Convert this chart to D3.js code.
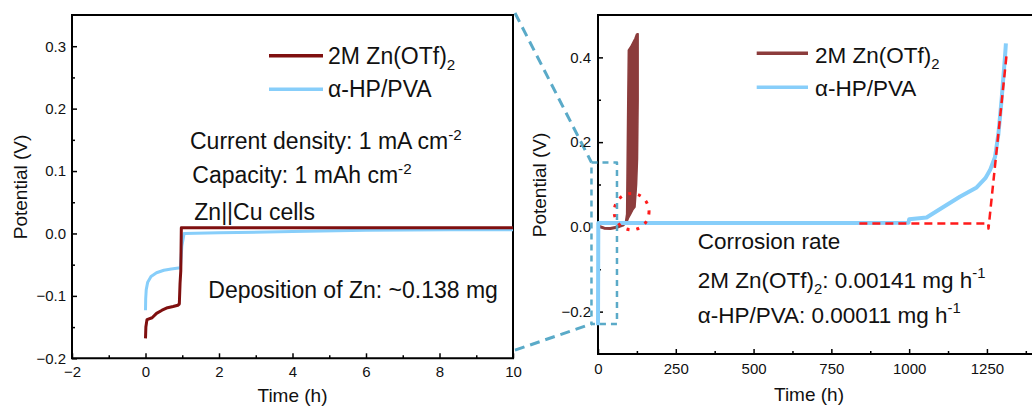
<!DOCTYPE html>
<html><head><meta charset="utf-8">
<script src="https://cdn.jsdelivr.net/npm/d3@7"></script>
<style>
body{margin:0;background:#fff}
text{font-family:"Liberation Sans",Arial,Helvetica,sans-serif;fill:#111}
</style></head>
<body><svg id="c" width="1032" height="407"></svg>
<script>
// ---------- data ----------
// Left panel (zoom, 0-10 h)
const leftRedT = [0, 0.01, 0.04, 0.18, 0.3, 0.45, 0.6, 0.75, 0.88, 0.92, 0.94, 0.96, 0.975, 1.0, 1.5, 10];
const leftRedV = [-0.168, -0.15, -0.138, -0.135, -0.128, -0.123, -0.119, -0.117, -0.115, -0.113, -0.08, -0.06, 0.009, 0.009, 0.009, 0.009];
const leftBlueT = [0, 0.005, 0.02, 0.06, 0.15, 0.3, 0.5, 0.7, 0.95, 0.99, 1.05, 2, 4, 6, 8.3, 10];
const leftBlueV = [-0.123, -0.105, -0.09, -0.078, -0.069, -0.063, -0.059, -0.057, -0.055, -0.02, 0.0, 0.001, 0.003, 0.005, 0.006, 0.006];
// Right panel (full, 0-1400 h)
const rightBrownT = [0, 20, 40, 60, 80, 88];
const rightBrownV = [0.002, -0.003, -0.004, -0.001, 0.004, 0.01];
const bandT  = [88, 92, 95, 97.5, 105, 112, 119, 124, 127, 129];
const bandHi = [0.01, 0.03, 0.25, 0.417, 0.425, 0.435, 0.445, 0.455, 0.456, 0.456];
const bandLo = [0.01, 0.01, 0.015, 0.02, 0.03, 0.04, 0.047, 0.1, 0.16, 0.3];
const rightBlueT = [0, 1, 200, 400, 600, 800, 998, 1000, 1056, 1110, 1163, 1217, 1245, 1260, 1276, 1287, 1297, 1308, 1311];
const rightBlueV = [-0.232, 0.009, 0.009, 0.009, 0.009, 0.009, 0.01, 0.018, 0.022, 0.047, 0.071, 0.093, 0.115, 0.134, 0.165, 0.22, 0.299, 0.401, 0.433];
const fitT = [840, 1254, 1255, 1313];
const fitV = [0.008, 0.008, -0.004, 0.405];
const circleCenter = [108, 0.036];   // dotted highlight (h, V)
const zoomBoxT = [-21, 61];
const zoomBoxV = [-0.229, 0.152];
// ticks
const lxMajor = [-2, 0, 2, 4, 6, 8, 10], lxMinor = [-1, 1, 3, 5, 7, 9];
const lyMajor = [-0.2, -0.1, 0, 0.1, 0.2, 0.3], lyMinor = [-0.15, -0.05, 0.05, 0.15, 0.25];
const rxMajor = [0, 250, 500, 750, 1000, 1250], rxMinor = [125, 375, 625, 875, 1125, 1375];
const ryMajor = [-0.2, 0, 0.2, 0.4], ryMinor = [-0.1, 0.1, 0.3];

// ---------- setup ----------
const svg = d3.select("#c");
const RED = "#7f0f0f", BROWN = "#8c3c3c", BLUE = "#87cefa", CONN = "#5aaac8";

const xL = d3.scaleLinear().domain([-2, 10]).range([72, 513]);
const yL = d3.scaleLinear().domain([-0.2, 0.35]).range([358.3, 15]);
const xR = d3.scaleLinear().domain([0, 1400]).range([598, 1033.6]);
const yR = d3.scaleLinear().domain([-0.3, 0.5]).range([354, 15]);

function zip(a, b) { return a.map((d, i) => [d, b[i]]); }

function axes(x, y, xMaj, xMin, yMaj, yMin, xPad, yPad, yFmt) {
  const g = svg.append("g");
  const [x0, x1] = x.range(), [y0, y1] = y.range();
  g.append("g").attr("transform", `translate(0,${y0})`)
    .call(d3.axisBottom(x).tickValues(xMaj).tickSize(-5).tickPadding(xPad).tickFormat(d3.format("d")));
  g.append("g").attr("transform", `translate(0,${y0})`)
    .call(d3.axisBottom(x).tickValues(xMin).tickSize(-3).tickFormat(""));
  g.append("g").attr("transform", `translate(${x0},0)`)
    .call(d3.axisLeft(y).tickValues(yMaj).tickSize(-5).tickPadding(yPad).tickFormat(d3.format(yFmt)));
  g.append("g").attr("transform", `translate(${x0},0)`)
    .call(d3.axisLeft(y).tickValues(yMin).tickSize(-3).tickFormat(""));
  g.selectAll(".domain").remove();
  g.selectAll(".tick line").attr("stroke", "#000").attr("stroke-width", 1.5);
  g.selectAll(".tick text").style("font-size", "15px").attr("fill", "#111")
    .style("font-family", '"Liberation Sans",Arial,sans-serif');
  svg.append("path").attr("fill", "none").attr("stroke", "#000").attr("stroke-width", 2)
    .attr("d", `M${x0},${y1}H${x1}V${y0}H${x0}Z`);
}

function rich(x, y, parts, size, anchor) {
  const t = svg.append("text").attr("x", x).attr("y", y).style("font-size", size + "px");
  if (anchor) t.attr("text-anchor", anchor);
  let shift = 0;
  parts.forEach(p => {
    const [s, k] = Array.isArray(p) ? p : [p, "n"];
    let target = 0, fs = size;
    if (k === "sup") { target = -0.42 * size; fs = size * 0.66; }
    if (k === "sub") { target = 0.28 * size; fs = size * 0.66; }
    t.append("tspan").attr("dy", target - shift).style("font-size", fs + "px").text(s);
    shift = target;
  });
  return t;
}

const line = (x, y) => d3.line().x(d => x(d[0])).y(d => y(d[1]));

// ---------- connector lines (behind) ----------
const cg = svg.append("g").attr("fill", "none").attr("stroke", CONN).attr("stroke-width", 3);
cg.append("path").attr("stroke-dasharray", "10,6")
  .attr("d", d3.line()([[xL(10) + 2, yL(0.35) - 2], [xR(zoomBoxT[0]), yR(zoomBoxV[1])]]));
cg.append("path").attr("stroke-dasharray", "10,6")
  .attr("d", d3.line()([[xL(10) + 2, yL(-0.187)], [xR(zoomBoxT[0]), yR(zoomBoxV[0])]]));

// ---------- left panel ----------
axes(xL, yL, lxMajor, lxMinor, lyMajor, lyMinor, 8, 6, ".1f");
svg.append("defs").append("clipPath").attr("id", "clipL").append("rect")
  .attr("x", 72).attr("y", 15).attr("width", 441).attr("height", 343.3);
const gl = svg.append("g").attr("clip-path", "url(#clipL)").attr("fill", "none")
  .attr("stroke-width", 3).attr("stroke-linejoin", "round");
gl.append("path").attr("stroke", BLUE).attr("d", line(xL, yL)(zip(leftBlueT, leftBlueV)));
gl.append("path").attr("stroke", RED).attr("d", line(xL, yL)(zip(leftRedT, leftRedV)));

svg.append("line").attr("x1", 269).attr("x2", 323).attr("y1", 55.7).attr("y2", 55.7)
  .attr("stroke", RED).attr("stroke-width", 3.5);
svg.append("line").attr("x1", 269).attr("x2", 323).attr("y1", 89.3).attr("y2", 89.3)
  .attr("stroke", BLUE).attr("stroke-width", 3.5);
rich(328, 63.8, ["2M Zn(OTf)", ["2", "sub"]], 23);
rich(328, 96.8, ["α-HP/PVA"], 23);
rich(190, 149.2, ["Current density: 1 mA cm", ["-2", "sup"]], 23);
rich(192.3, 183.2, ["Capacity: 1 mAh cm", ["-2", "sup"]], 23);
rich(194.3, 219.8, ["Zn||Cu cells"], 23);
rich(208.3, 298.2, ["Deposition of Zn: ~0.138 mg"], 23);
svg.append("text").attr("transform", "translate(27,187) rotate(-90)").attr("text-anchor", "middle")
  .style("font-size", "19px").text("Potential (V)");
svg.append("text").attr("x", 292.5).attr("y", 402).attr("text-anchor", "middle")
  .style("font-size", "19px").text("Time (h)");

// ---------- right panel ----------
axes(xR, yR, rxMajor, rxMinor, ryMajor, ryMinor, 9, 7, ".1f");
const gr = svg.append("g").attr("fill", "none").attr("stroke-linejoin", "round");
gr.append("path").attr("stroke", BROWN).attr("stroke-width", 3)
  .attr("d", line(xR, yR)(zip(rightBrownT, rightBrownV)));
gr.append("path").attr("fill", BROWN).attr("stroke", BROWN).attr("stroke-width", 1.5)
  .attr("d", d3.area().x(d => xR(d[0])).y0(d => yR(d[2])).y1(d => yR(d[1]))(bandT.map((t, i) => [t, bandHi[i], bandLo[i]])));
gr.append("path").attr("stroke", BLUE).attr("stroke-width", 4)
  .attr("d", line(xR, yR)(zip(rightBlueT, rightBlueV)));
gr.append("path").attr("stroke", "#ff1a1a").attr("stroke-width", 2.5).attr("stroke-dasharray", "8,5")
  .attr("d", line(xR, yR)(zip(fitT, fitV)));
gr.append("ellipse").attr("cx", xR(circleCenter[0])).attr("cy", yR(circleCenter[1]))
  .attr("rx", xR(circleCenter[0] + 56) - xR(circleCenter[0]))
  .attr("ry", yR(circleCenter[1]) - yR(circleCenter[1] + 0.043))
  .attr("stroke", "#ff1a1a").attr("stroke-width", 3).attr("stroke-dasharray", "3,7");
gr.append("rect").attr("x", xR(zoomBoxT[0])).attr("y", yR(zoomBoxV[1]))
  .attr("width", xR(zoomBoxT[1]) - xR(zoomBoxT[0])).attr("height", yR(zoomBoxV[0]) - yR(zoomBoxV[1]))
  .attr("stroke", CONN).attr("stroke-width", 2.5).attr("stroke-dasharray", "6,5");

svg.append("line").attr("x1", 756.7).attr("x2", 808).attr("y1", 53.3).attr("y2", 53.3)
  .attr("stroke", BROWN).attr("stroke-width", 3.5);
svg.append("line").attr("x1", 756.7).attr("x2", 808).attr("y1", 87.3).attr("y2", 87.3)
  .attr("stroke", BLUE).attr("stroke-width", 3.5);
rich(815, 62.8, ["2M Zn(OTf)", ["2", "sub"]], 22.5);
rich(815, 95.5, ["α-HP/PVA"], 22.5);
rich(697.7, 249.4, ["Corrosion rate"], 22.5);
rich(697.7, 287.8, ["2M Zn(OTf)", ["2", "sub"], ": 0.00141 mg h", ["-1", "sup"]], 22.5);
rich(697.7, 322.8, ["α-HP/PVA: 0.00011 mg h", ["-1", "sup"]], 22.5);
svg.append("text").attr("transform", "translate(546,185) rotate(-90)").attr("text-anchor", "middle")
  .style("font-size", "19px").text("Potential (V)");
svg.append("text").attr("x", 809).attr("y", 401).attr("text-anchor", "middle")
  .style("font-size", "19px").text("Time (h)");
</script></body></html>
